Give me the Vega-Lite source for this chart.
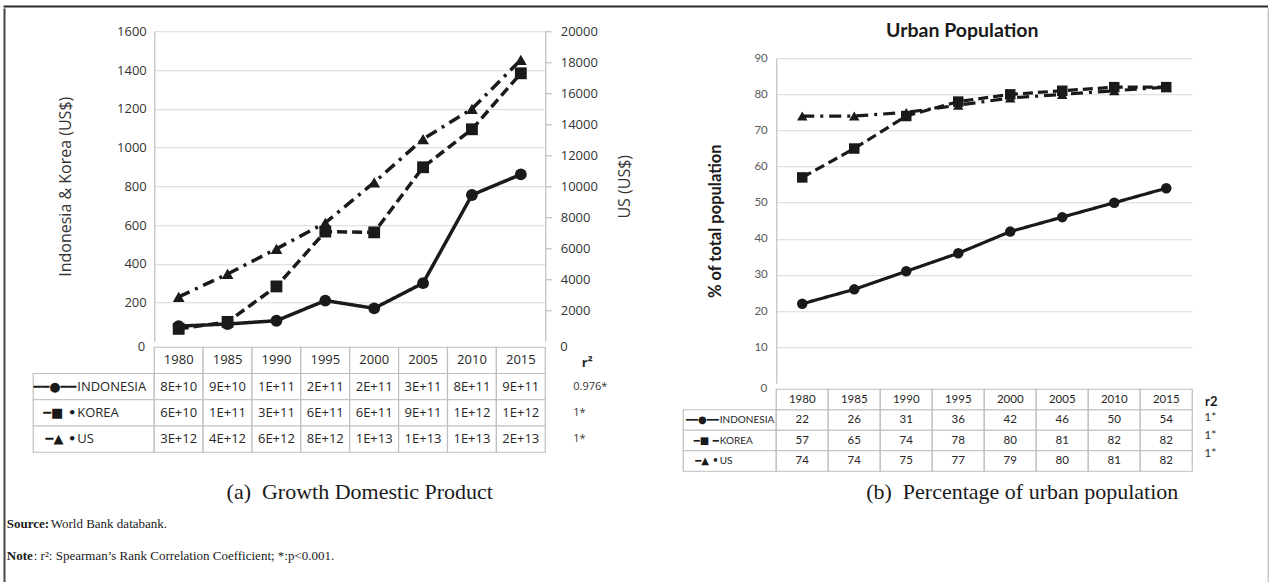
{
  "$schema": "https://vega.github.io/schema/vega-lite/v6.json",
  "background": "white",
  "padding": {"left": 3.25, "top": 5.25, "right": 0, "bottom": 0},
  "autosize": {"type": "pad"},
  "config": {"view": {"stroke": null}},
  "datasets": {
    "gdp": [
      {"country": "INDONESIA", "year": "1980", "gdp": 78000000000},
      {"country": "INDONESIA", "year": "1985", "gdp": 89000000000},
      {"country": "INDONESIA", "year": "1990", "gdp": 106000000000},
      {"country": "INDONESIA", "year": "1995", "gdp": 210000000000},
      {"country": "INDONESIA", "year": "2000", "gdp": 170000000000},
      {"country": "INDONESIA", "year": "2005", "gdp": 300000000000},
      {"country": "INDONESIA", "year": "2010", "gdp": 755000000000},
      {"country": "INDONESIA", "year": "2015", "gdp": 861000000000},
      {"country": "KOREA", "year": "1980", "gdp": 64000000000},
      {"country": "KOREA", "year": "1985", "gdp": 100000000000},
      {"country": "KOREA", "year": "1990", "gdp": 283000000000},
      {"country": "KOREA", "year": "1995", "gdp": 566000000000},
      {"country": "KOREA", "year": "2000", "gdp": 562000000000},
      {"country": "KOREA", "year": "2005", "gdp": 898000000000},
      {"country": "KOREA", "year": "2010", "gdp": 1094000000000},
      {"country": "KOREA", "year": "2015", "gdp": 1383000000000},
      {"country": "US", "year": "1980", "gdp": 2860000000000},
      {"country": "US", "year": "1985", "gdp": 4340000000000},
      {"country": "US", "year": "1990", "gdp": 5960000000000},
      {"country": "US", "year": "1995", "gdp": 7640000000000},
      {"country": "US", "year": "2000", "gdp": 10250000000000},
      {"country": "US", "year": "2005", "gdp": 13040000000000},
      {"country": "US", "year": "2010", "gdp": 14990000000000},
      {"country": "US", "year": "2015", "gdp": 18150000000000}
    ],
    "gdp_r2": [
      {"country": "INDONESIA", "r2": "0.976*"},
      {"country": "KOREA", "r2": "1*"},
      {"country": "US", "r2": "1*"}
    ],
    "urban": [
      {"country": "INDONESIA", "year": "1980", "pct": 22},
      {"country": "INDONESIA", "year": "1985", "pct": 26},
      {"country": "INDONESIA", "year": "1990", "pct": 31},
      {"country": "INDONESIA", "year": "1995", "pct": 36},
      {"country": "INDONESIA", "year": "2000", "pct": 42},
      {"country": "INDONESIA", "year": "2005", "pct": 46},
      {"country": "INDONESIA", "year": "2010", "pct": 50},
      {"country": "INDONESIA", "year": "2015", "pct": 54},
      {"country": "KOREA", "year": "1980", "pct": 57},
      {"country": "KOREA", "year": "1985", "pct": 65},
      {"country": "KOREA", "year": "1990", "pct": 74},
      {"country": "KOREA", "year": "1995", "pct": 78},
      {"country": "KOREA", "year": "2000", "pct": 80},
      {"country": "KOREA", "year": "2005", "pct": 81},
      {"country": "KOREA", "year": "2010", "pct": 82},
      {"country": "KOREA", "year": "2015", "pct": 82},
      {"country": "US", "year": "1980", "pct": 74},
      {"country": "US", "year": "1985", "pct": 74},
      {"country": "US", "year": "1990", "pct": 75},
      {"country": "US", "year": "1995", "pct": 77},
      {"country": "US", "year": "2000", "pct": 79},
      {"country": "US", "year": "2005", "pct": 80},
      {"country": "US", "year": "2010", "pct": 81},
      {"country": "US", "year": "2015", "pct": 82}
    ],
    "urban_r2": [
      {"country": "INDONESIA", "r2": "1*"},
      {"country": "KOREA", "r2": "1*"},
      {"country": "US", "r2": "1*"}
    ],
    "notes": [
      {"line": "Source", "head": "Source:", "body": "World Bank databank."},
      {"line": "Note", "head": "Note", "body": ": r²: Spearman’s Rank Correlation Coefficient; *:p<0.001."}
    ]
  },
  "spacing": 0,
  "bounds": "full",
  "vconcat": [
    {
      "width": 1263,
      "height": 0.5,
      "view": {"stroke": "#2b2b2b", "strokeWidth": 1.5},
      "data": {"values": []},
      "mark": "point"
    },
    {
      "spacing": 0,
      "bounds": "full",
      "hconcat": [
        {
          "width": 0.5,
          "height": 577,
          "view": {"stroke": "#444444", "strokeWidth": 1.5},
          "data": {"values": []},
          "mark": "point"
        },
        {
          "spacing": 26,
          "bounds": "full",
          "hconcat": [
            {
              "spacing": 4,
              "bounds": "full",
              "vconcat": [
                {
                  "hconcat": [
                    {"width": 25.5, "height": 10, "data": {"values": []}, "mark": "point"},
                    {
                      "vconcat": [
                        {"width": 10, "height": 15.5, "data": {"values": []}, "mark": "point"},
                        {
                          "hconcat": [
                            {"width": 121, "height": 310, "data": {"values": []}, "mark": "point"},
                            {
                              "width": 391,
                              "height": 310,
                              "data": {"name": "gdp"},
                              "encoding": {
                                "x": {"field": "year", "type": "ordinal", "axis": null, "scale": {"type": "point", "padding": 0.5}}
                              },
                              "layer": [
                                {
                                  "transform": [{"filter": "datum.country !== 'US'"}],
                                  "encoding": {
                                    "y": {
                                      "field": "gdp", "type": "quantitative",
                                      "scale": {"domain": [0, 1600000000000], "nice": false},
                                      "axis": {
                                        "orient": "left",
                                        "values": [200000000000, 400000000000, 600000000000, 800000000000, 1000000000000, 1200000000000, 1400000000000, 1600000000000],
                                        "labelExpr": "format(datum.value / 1e9, 'd')",
                                        "grid": true, "gridColor": "#d9d9d9", "gridWidth": 1.2,
                                        "domain": true, "domainColor": "#bfbfbf", "domainWidth": 1.2,
                                        "ticks": false, "labelPadding": 8,
                                        "labelFont": "Open Sans", "labelFontSize": 13, "labelColor": "#333333",
                                        "title": "Indonesia & Korea (US$)",
                                        "titleFont": "Open Sans", "titleFontSize": 16, "titleFontWeight": "normal", "titleColor": "#333333",
                                        "titleAngle": 270, "titleX": -89, "titleY": 155, "titleAlign": "center", "titleBaseline": "middle"
                                      }
                                    }
                                  },
                                  "layer": [
                                    {
                                      "mark": {"type": "line", "color": "#1a1a1a", "strokeWidth": 3.5},
                                      "encoding": {
                                        "strokeDash": {"field": "country", "type": "nominal", "legend": null,
                                          "scale": {"domain": ["INDONESIA", "KOREA", "US"], "range": [[1, 0], [10, 5], [12, 6, 3, 6]]}}
                                      }
                                    },
                                    {
                                      "mark": {"type": "point", "filled": true, "color": "#1a1a1a", "opacity": 1, "size": 140},
                                      "encoding": {
                                        "shape": {"field": "country", "type": "nominal", "legend": null,
                                          "scale": {"domain": ["INDONESIA", "KOREA", "US"], "range": ["circle", "square", "triangle-up"]}}
                                      }
                                    }
                                  ]
                                },
                                {
                                  "transform": [{"filter": "datum.country === 'US'"}],
                                  "encoding": {
                                    "y": {
                                      "field": "gdp", "type": "quantitative",
                                      "scale": {"domain": [0, 20000000000000], "nice": false},
                                      "axis": {
                                        "orient": "right",
                                        "values": [2000000000000, 4000000000000, 6000000000000, 8000000000000, 10000000000000, 12000000000000, 14000000000000, 16000000000000, 18000000000000, 20000000000000],
                                        "labelExpr": "format(datum.value / 1e9, 'd')",
                                        "grid": false,
                                        "domain": true, "domainColor": "#bfbfbf", "domainWidth": 1.2,
                                        "ticks": true, "tickSize": 6, "tickColor": "#bfbfbf", "tickWidth": 1.2, "labelPadding": 9,
                                        "labelFont": "Open Sans", "labelFontSize": 13, "labelColor": "#333333",
                                        "title": "US (US$)",
                                        "titleFont": "Open Sans", "titleFontSize": 16, "titleFontWeight": "normal", "titleColor": "#333333",
                                        "titleAngle": 270, "titleX": 79, "titleY": 155, "titleAlign": "center", "titleBaseline": "middle"
                                      }
                                    }
                                  },
                                  "layer": [
                                    {
                                      "mark": {"type": "line", "color": "#1a1a1a", "strokeWidth": 3.5},
                                      "encoding": {
                                        "strokeDash": {"field": "country", "type": "nominal", "legend": null,
                                          "scale": {"domain": ["INDONESIA", "KOREA", "US"], "range": [[1, 0], [10, 5], [12, 6, 3, 6]]}}
                                      }
                                    },
                                    {
                                      "mark": {"type": "point", "filled": true, "color": "#1a1a1a", "opacity": 1, "size": 140},
                                      "encoding": {
                                        "shape": {"field": "country", "type": "nominal", "legend": null,
                                          "scale": {"domain": ["INDONESIA", "KOREA", "US"], "range": ["circle", "square", "triangle-up"]}}
                                      }
                                    }
                                  ]
                                }
                              ],
                              "resolve": {"scale": {"y": "independent"}}
                            }
                          ],
                          "spacing": 0,
                          "bounds": "flush"
                        },
                        {
                          "hconcat": [
                            {
                              "width": 121,
                              "height": 105,
                              "data": {"name": "gdp"},
                              "transform": [{"filter": "datum.year === '1980'"}],
                              "encoding": {
                                "y": {"field": "country", "type": "nominal", "axis": null,
                                  "scale": {"type": "band", "domain": ["hdr", "INDONESIA", "KOREA", "US"], "paddingInner": 0, "paddingOuter": 0}}
                              },
                              "layer": [
                                {"mark": {"type": "rect", "fill": "white", "stroke": "#bfbfbf", "strokeWidth": 1.2}},
                                {
                                  "mark": {"type": "text", "align": "right", "dx": -17.5, "font": "DejaVu Sans", "fontSize": 13, "fontWeight": "bold", "color": "#1a1a1a",
                                    "text": {"expr": "datum.country === 'INDONESIA' ? '━━●━━' : datum.country === 'KOREA' ? '━■ •' : '━▲ •\u00a0\u00a0'"}}
                                },
                                {
                                  "mark": {"type": "text", "align": "left", "dx": -16.5, "font": "Open Sans", "fontSize": 13, "color": "#262626"},
                                  "encoding": {"text": {"field": "country"}}
                                },
                                {
                                  "transform": [{"filter": "datum.country === 'INDONESIA'"}],
                                  "mark": {"type": "text", "align": "right", "dx": 51.5, "font": "Open Sans", "fontSize": 13, "color": "#333333", "text": "0"},
                                  "encoding": {"y": {"datum": "hdr", "type": "nominal", "bandPosition": 0}}
                                }
                              ]
                            },
                            {
                              "width": 391,
                              "height": 105,
                              "data": {"name": "gdp"},
                              "title": {"text": "(a)\u00a0 Growth Domestic Product", "orient": "bottom", "anchor": "middle", "frame": "group",
                                "font": "Liberation Serif", "fontSize": 22, "fontWeight": "normal", "color": "#1a1a1a", "offset": 29, "dx": 10},
                              "encoding": {
                                "x": {"field": "year", "type": "ordinal", "axis": null, "scale": {"type": "band", "paddingInner": 0, "paddingOuter": 0}}
                              },
                              "layer": [
                                {
                                  "mark": {"type": "rect", "fill": "white", "stroke": "#bfbfbf", "strokeWidth": 1.2},
                                  "encoding": {"y": {"field": "country", "type": "nominal", "axis": null,
                                    "scale": {"type": "band", "domain": ["hdr", "INDONESIA", "KOREA", "US"], "paddingInner": 0, "paddingOuter": 0}}}
                                },
                                {
                                  "transform": [{"filter": "datum.country === 'INDONESIA'"}],
                                  "mark": {"type": "rect", "fill": "white", "stroke": "#bfbfbf", "strokeWidth": 1.2},
                                  "encoding": {"y": {"datum": "hdr", "type": "nominal"}}
                                },
                                {
                                  "mark": {"type": "text", "font": "Open Sans", "fontSize": 13, "color": "#262626",
                                    "text": {"expr": "upper(format(datum.gdp, '.0e'))"}},
                                  "encoding": {"y": {"field": "country", "type": "nominal"}}
                                },
                                {
                                  "transform": [{"filter": "datum.country === 'INDONESIA'"}],
                                  "mark": {"type": "text", "font": "Open Sans", "fontSize": 13, "color": "#262626"},
                                  "encoding": {"y": {"datum": "hdr", "type": "nominal"}, "text": {"field": "year"}}
                                }
                              ]
                            },
                            {
                              "width": 137,
                              "height": 105,
                              "data": {"name": "gdp_r2"},
                              "encoding": {
                                "y": {"field": "country", "type": "nominal", "axis": null,
                                  "scale": {"type": "band", "domain": ["hdr", "INDONESIA", "KOREA", "US"], "paddingInner": 0, "paddingOuter": 0}}
                              },
                              "layer": [
                                {
                                  "mark": {"type": "text", "align": "left", "dx": -40.5, "font": "Open Sans", "fontSize": 11, "color": "#333333"},
                                  "encoding": {"text": {"field": "r2"}}
                                },
                                {
                                  "transform": [{"filter": "datum.country === 'INDONESIA'"}],
                                  "mark": {"type": "text", "align": "center", "dx": -26.5, "dy": 3, "font": "Open Sans", "fontSize": 13, "fontWeight": "bold", "color": "#262626", "text": "r²"},
                                  "encoding": {"y": {"datum": "hdr", "type": "nominal"}}
                                },
                                {
                                  "transform": [{"filter": "datum.country === 'INDONESIA'"}],
                                  "mark": {"type": "text", "align": "left", "dx": -53.5, "font": "Open Sans", "fontSize": 13, "color": "#333333", "text": "0"},
                                  "encoding": {"y": {"datum": "hdr", "type": "nominal", "bandPosition": 0}}
                                }
                              ]
                            }
                          ],
                          "spacing": 0,
                          "bounds": "flush"
                        }
                      ],
                      "spacing": 0,
                      "bounds": "full"
                    },
                    {
                      "vconcat": [
                        {
                          "width": 558,
                          "height": 42.5,
                          "data": {"values": [{"label": "Urban Population"}]},
                          "mark": {"type": "text", "dy": 0, "font": "Lato", "fontSize": 19.5, "fontWeight": "bold", "color": "#1a1a1a"},
                          "encoding": {"text": {"field": "label"}}
                        },
                        {
                          "hconcat": [
                            {"width": 93, "height": 325, "data": {"values": []}, "mark": "point"},
                            {
                              "width": 416,
                              "height": 325,
                              "data": {"name": "urban"},
                              "encoding": {
                                "x": {"field": "year", "type": "ordinal", "axis": null, "scale": {"type": "point", "padding": 0.5}},
                                "y": {
                                  "field": "pct", "type": "quantitative",
                                  "scale": {"domain": [0, 90], "nice": false},
                                  "axis": {
                                    "values": [10, 20, 30, 40, 50, 60, 70, 80, 90],
                                    "grid": true, "gridColor": "#d9d9d9", "gridWidth": 1.2,
                                    "domain": true, "domainColor": "#bfbfbf", "domainWidth": 1.2,
                                    "ticks": false, "labelPadding": 9,
                                    "labelFont": "Lato", "labelFontSize": 11.5, "labelColor": "#595959",
                                    "title": "% of total population",
                                    "titleFont": "Lato", "titleFontSize": 16.5, "titleFontWeight": "bold", "titleColor": "#1a1a1a",
                                    "titleAngle": 270, "titleX": -61, "titleY": 162.5, "titleAlign": "center", "titleBaseline": "middle"
                                  }
                                }
                              },
                              "layer": [
                                {
                                  "mark": {"type": "line", "color": "#1a1a1a", "strokeWidth": 3.2},
                                  "encoding": {
                                    "strokeDash": {"field": "country", "type": "nominal", "legend": null,
                                      "scale": {"domain": ["INDONESIA", "KOREA", "US"], "range": [[1, 0], [8, 4], [10, 6, 3, 6]]}}
                                  }
                                },
                                {
                                  "mark": {"type": "point", "filled": true, "color": "#1a1a1a", "opacity": 1, "size": 110},
                                  "encoding": {
                                    "shape": {"field": "country", "type": "nominal", "legend": null,
                                      "scale": {"domain": ["INDONESIA", "KOREA", "US"], "range": ["circle", "square", "triangle-up"]}}
                                  }
                                }
                              ]
                            }
                          ],
                          "spacing": 0,
                          "bounds": "flush"
                        },
                        {
                          "hconcat": [
                            {
                              "width": 93,
                              "height": 82,
                              "data": {"name": "urban"},
                              "transform": [{"filter": "datum.year === '1980'"}],
                              "encoding": {
                                "y": {"field": "country", "type": "nominal", "axis": null,
                                  "scale": {"type": "band", "domain": ["hdr", "INDONESIA", "KOREA", "US"], "paddingInner": 0, "paddingOuter": 0}}
                              },
                              "layer": [
                                {"mark": {"type": "rect", "fill": "white", "stroke": "#bfbfbf", "strokeWidth": 1.2}},
                                {
                                  "mark": {"type": "text", "align": "right", "dx": -11, "font": "DejaVu Sans", "fontSize": 10, "fontWeight": "bold", "color": "#1a1a1a",
                                    "text": {"expr": "datum.country === 'INDONESIA' ? '━━●━━' : datum.country === 'KOREA' ? '━■ ━' : '━▲ •\u00a0'"}}
                                },
                                {
                                  "mark": {"type": "text", "align": "left", "dx": -10, "font": "Lato", "fontSize": 10, "color": "#262626"},
                                  "encoding": {"text": {"field": "country"}}
                                },
                                {
                                  "transform": [{"filter": "datum.country === 'INDONESIA'"}],
                                  "mark": {"type": "text", "align": "right", "dx": 37.5, "font": "Lato", "fontSize": 11.5, "color": "#595959", "text": "0"},
                                  "encoding": {"y": {"datum": "hdr", "type": "nominal", "bandPosition": 0}}
                                }
                              ]
                            },
                            {
                              "width": 416,
                              "height": 82,
                              "data": {"name": "urban"},
                              "title": {"text": "(b)\u00a0 Percentage of urban population", "orient": "bottom", "anchor": "middle", "frame": "group",
                                "font": "Liberation Serif", "fontSize": 22, "fontWeight": "normal", "color": "#1a1a1a", "offset": 10.5, "dx": 38},
                              "encoding": {
                                "x": {"field": "year", "type": "ordinal", "axis": null, "scale": {"type": "band", "paddingInner": 0, "paddingOuter": 0}}
                              },
                              "layer": [
                                {
                                  "mark": {"type": "rect", "fill": "white", "stroke": "#bfbfbf", "strokeWidth": 1.2},
                                  "encoding": {"y": {"field": "country", "type": "nominal", "axis": null,
                                    "scale": {"type": "band", "domain": ["hdr", "INDONESIA", "KOREA", "US"], "paddingInner": 0, "paddingOuter": 0}}}
                                },
                                {
                                  "transform": [{"filter": "datum.country === 'INDONESIA'"}],
                                  "mark": {"type": "rect", "fill": "white", "stroke": "#bfbfbf", "strokeWidth": 1.2},
                                  "encoding": {"y": {"datum": "hdr", "type": "nominal"}}
                                },
                                {
                                  "mark": {"type": "text", "font": "Lato", "fontSize": 11.5, "color": "#262626"},
                                  "encoding": {"y": {"field": "country", "type": "nominal"}, "text": {"field": "pct"}}
                                },
                                {
                                  "transform": [{"filter": "datum.country === 'INDONESIA'"}],
                                  "mark": {"type": "text", "font": "Lato", "fontSize": 11.5, "color": "#262626"},
                                  "encoding": {"y": {"datum": "hdr", "type": "nominal"}, "text": {"field": "year"}}
                                }
                              ]
                            },
                            {
                              "width": 49,
                              "height": 82,
                              "data": {"name": "urban_r2"},
                              "encoding": {
                                "y": {"field": "country", "type": "nominal", "axis": null,
                                  "scale": {"type": "point", "domain": ["hdr", "INDONESIA", "KOREA", "US"], "padding": 0.78}}
                              },
                              "layer": [
                                {
                                  "mark": {"type": "text", "align": "left", "dx": -12.5, "dy": -4, "font": "Lato", "fontSize": 12, "color": "#333333"},
                                  "encoding": {"text": {"field": "r2"}}
                                },
                                {
                                  "transform": [{"filter": "datum.country === 'INDONESIA'"}],
                                  "mark": {"type": "text", "align": "center", "dx": -5.5, "dy": -1, "font": "Lato", "fontSize": 13, "fontWeight": "bold", "color": "#1a1a1a", "text": "r2"},
                                  "encoding": {"y": {"datum": "hdr", "type": "nominal"}}
                                }
                              ]
                            }
                          ],
                          "spacing": 0,
                          "bounds": "flush"
                        }
                      ],
                      "spacing": 0,
                      "bounds": "full"
                    }
                  ],
                  "spacing": 0,
                  "bounds": "full"
                },
                {
                  "width": 1,
                  "height": 64,
                  "data": {"name": "notes"},
                  "encoding": {
                    "y": {"field": "line", "type": "nominal", "axis": null, "scale": {"type": "point", "domain": ["Source", "Note"], "padding": 0.5}}
                  },
                  "layer": [
                    {
                      "mark": {"type": "text", "align": "left", "font": "Liberation Serif", "fontSize": 13, "fontWeight": "bold", "color": "#1a1a1a"},
                      "encoding": {"text": {"field": "head"}}
                    },
                    {
                      "transform": [{"filter": "datum.line === 'Source'"}],
                      "mark": {"type": "text", "align": "left", "dx": 44, "font": "Liberation Serif", "fontSize": 13, "color": "#1a1a1a"},
                      "encoding": {"text": {"field": "body"}}
                    },
                    {
                      "transform": [{"filter": "datum.line === 'Note'"}],
                      "mark": {"type": "text", "align": "left", "dx": 27, "font": "Liberation Serif", "fontSize": 13, "color": "#1a1a1a"},
                      "encoding": {"text": {"field": "body"}}
                    }
                  ]
                }
              ]
            },
            {
              "width": 0.5,
              "height": 577,
              "view": {"stroke": "#c8c8c8", "strokeWidth": 1.5},
              "data": {"values": []},
              "mark": "point"
            }
          ]
        }
      ]
    }
  ]
}
